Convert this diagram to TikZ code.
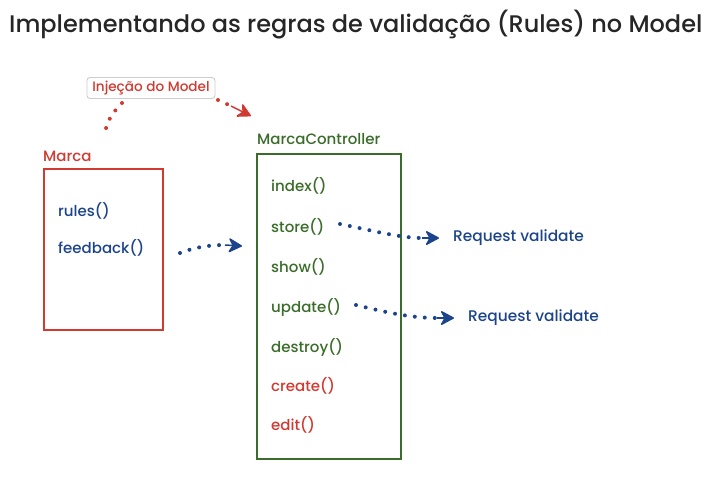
\documentclass[tikz,border=0pt]{standalone}
\usepackage{fontspec}
\setmainfont{Poppins Medium}
\usetikzlibrary{arrows.meta,calc}
\definecolor{cred}{RGB}{208,58,48}
\definecolor{cblue}{RGB}{28,68,138}
\definecolor{cgreen}{RGB}{58,108,42}
\definecolor{ctitle}{RGB}{38,38,38}
\definecolor{cgray}{RGB}{205,205,205}
\tikzset{
  lbl/.style={anchor=west, inner sep=0pt, font=\fontsize{15}{18}\selectfont},
  dots/.style={line width=4pt, dash pattern=on 0pt off 10pt, line cap=round},
  tipline/.style={line width=1.5pt, solid, line join=round, -{Stealth[length=15pt, width=16pt, inset=4.5pt, round]}},
  box/.style={draw, line width=2pt, inner sep=0pt, anchor=north west}
}
\begin{document}
\begin{tikzpicture}[x=1pt,y=-1pt]
\useasboundingbox (0,0) rectangle (723,491);
\node[anchor=west, inner sep=0pt, text=ctitle, font=\fontsize{24}{28}\selectfont] (title) at (9,25) {Implementando as regras de validação (Rules) no Model};

% Marca
\node[box, draw=cred, minimum width=119pt, minimum height=161pt] (marca) at (43,168) {};
\node[lbl, text=cred] (marcalbl) at (43,156) {Marca};
\node[lbl, text=cblue] (rules) at (58,211) {rules()};
\node[lbl, text=cblue] (feedback) at (58,248) {feedback()};

% Injecao
\node[draw=cgray, line width=0.9pt, rounded corners=3pt, text=cred, inner sep=2pt, minimum width=128pt, minimum height=21pt, font=\fontsize{13.6}{16}\selectfont] (inj) at (151,88) {Injeção do Model};

% Controller
\node[box, draw=cgreen, minimum width=144pt, minimum height=305pt] (ctrl) at (256,153) {};
\node[lbl, text=cgreen] (ctrllbl) at (257,139) {MarcaController};
\node[lbl, text=cgreen] (index) at (271,186) {index()};
\node[lbl, text=cgreen] (store) at (271,227) {store()};
\node[lbl, text=cgreen] (show) at (271,267) {show()};
\node[lbl, text=cgreen] (update) at (271,307) {update()};
\node[lbl, text=cgreen] (destroy) at (271,347) {destroy()};
\node[lbl, text=cred] (create) at (271,386) {create()};
\node[lbl, text=cred] (edit) at (271,425) {edit()};

\node[lbl, text=cblue, font=\fontsize{15.4}{18}\selectfont] (req1) at (453,238) {Request validate};
\node[lbl, text=cblue, font=\fontsize{15.4}{18}\selectfont] (req2) at (468,318) {Request validate};

% connector end points
\coordinate (fbA) at (180,253);
\coordinate (fbB) at (225,245);
\coordinate (fbT) at (242,246);
\coordinate (stA) at (340,224);
\coordinate (stB) at (422,238);
\coordinate (stT) at (439,238);
\coordinate (upA) at (356,305);
\coordinate (upB) at (437,318);
\coordinate (upT) at (454,318);
\coordinate (inA) at (105,134);
\coordinate (inB) at (122,103);
\coordinate (rjA) at (218,100);
\coordinate (rjB) at (231,106);
\coordinate (rjT) at (251,116);

% connectors
\draw[dots, cblue] (fbA) .. controls (195,247) and (210,245) .. (fbB);
\draw[tipline, cblue, fill=cblue] (fbB) -- (fbT);
\draw[dots, cblue] (stA) .. controls (370,230) and (400,238) .. (stB);
\draw[tipline, cblue, fill=cblue] (stB) -- (stT);
\draw[dots, cblue] (upA) .. controls (385,312) and (410,318) .. (upB);
\draw[tipline, cblue, fill=cblue] (upB) -- (upT);
\draw[dots, cred] (inB) .. controls (113,112) and (106,122) .. (inA);
\draw[dots, cred] (rjA) -- (rjB);
\draw[tipline, cred, fill=cred] (rjB) -- (rjT);
\end{tikzpicture}
\end{document}
